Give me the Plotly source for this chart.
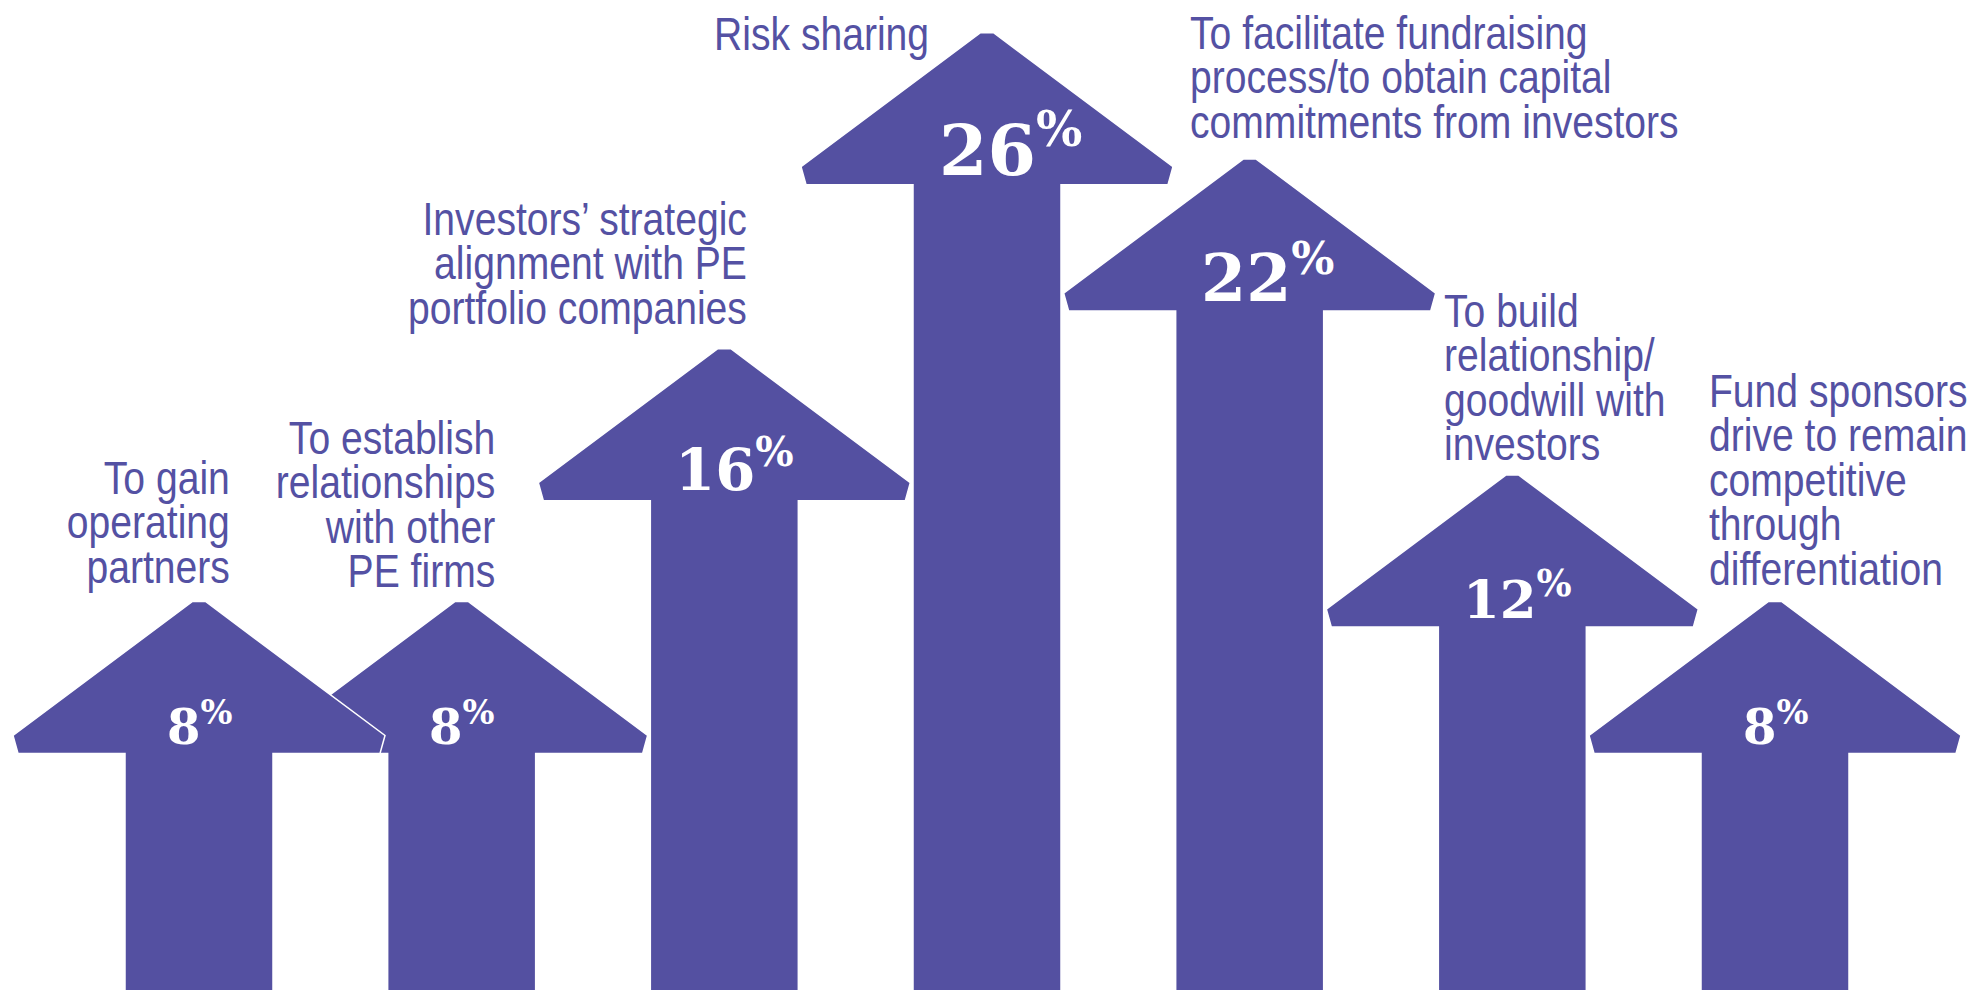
import json
import plotly.graph_objects as go

# ---------------- data ----------------
categories = [
    "To gain operating partners",
    "To establish relationships with other PE firms",
    "Investors’ strategic alignment with PE portfolio companies",
    "Risk sharing",
    "To facilitate fundraising process/to obtain capital commitments from investors",
    "To build relationship/goodwill with investors",
    "Fund sponsors drive to remain competitive through differentiation",
]
values = [8, 8, 16, 26, 22, 12, 8]
label_lines = [
    ["To gain", "operating", "partners"],
    ["To establish", "relationships", "with other", "PE firms"],
    ["Investors’ strategic", "alignment with PE", "portfolio companies"],
    ["Risk sharing"],
    ["To facilitate fundraising", "process/to obtain capital", "commitments from investors"],
    ["To build", "relationship/", "goodwill with", "investors"],
    ["Fund sponsors", "drive to remain", "competitive", "through", "differentiation"],
]

# ---------------- style / layout ----------------
W, H = 1986, 990
PURPLE = "#5450A1"
TEXT_PURPLE = "#5451A3"
X_RANGE = [-0.7576, 6.8033]
Y_RANGE = [-4.294, 27.035]
px_x = (X_RANGE[1] - X_RANGE[0]) / W   # data units per pixel (x)
px_y = (Y_RANGE[1] - Y_RANGE[0]) / H   # data units per pixel (y)

# arrow outline offsets in pixels (x right, y down from tip)
HEAD = [(-6.5, 0), (6.5, 0), (186, 134), (181, 152), (74, 152)]
SHAFT_HALF = 74

# label placement: (alignment, x offset px from arrow centre, px of last baseline above tip)
label_place = [
    ("right", 33, 20),
    ("right", 35, 15),
    ("right", 25, 26),
    ("right", -56, -16),
    ("left", -62, 22),
    ("left", -70, 16),
    ("left", -68, 18),
]
LABEL_FONT = 46
LINE_GAP = 44.5
ASCENT = 0.905
CONDENSE = 0.85
PCT_FONT = "DejaVu Serif, Liberation Serif, serif"

fig = go.Figure()

# draw arrows right-to-left so left arrows sit on top
for i in reversed(range(len(values))):
    v = values[i]
    xs, ys = [], []
    pts = HEAD + [(SHAFT_HALF, None), (-SHAFT_HALF, None)] + [(-dx, dy) for dx, dy in reversed(HEAD)]
    for dx, dy in pts:
        xs.append(i + dx * px_x)
        ys.append(Y_RANGE[0] - 1 if dy is None else v - dy * px_y)
    fig.add_trace(go.Scatter(
        x=xs, y=ys, mode="lines", fill="toself", fillcolor=PURPLE,
        line=dict(color="white", width=1.5), hoverinfo="text",
        text=f"{categories[i]}: {v}%", showlegend=False,
    ))

annotations = []
origins = {}
for i, v in enumerate(values):
    fsize = 38.5 + 1.2 * v
    annotations.append(dict(
        x=i, y=v - 143 * px_y, xref="x", yref="y",
        text=f"{v}<sup>%</sup>", showarrow=False,
        xanchor="center", yanchor="bottom",
        xshift=1.3 * (v - 8), yshift=-(0.236 * fsize + 1),
        font=dict(family=PCT_FONT, size=fsize, color="white", weight="bold"),
    ))
    align, xo, bo = label_place[i]
    lines = label_lines[i]
    n = len(lines)
    first_base_up = bo + (n - 1) * LINE_GAP
    origins[len(annotations)] = "100%" if align == "right" else "0%"
    annotations.append(dict(
        x=i, y=v, xref="x", yref="y", text="<br>".join(lines), showarrow=False,
        xanchor=align, align=align, yanchor="top", xshift=xo,
        yshift=first_base_up + ASCENT * LABEL_FONT + 1,
        font=dict(family="Liberation Sans Narrow, Arial Narrow, Liberation Sans, sans-serif",
                  size=LABEL_FONT, color=TEXT_PURPLE),
    ))

fig.update_layout(
    width=W, height=H, margin=dict(l=0, r=0, t=0, b=0),
    paper_bgcolor="white", plot_bgcolor="white",
    xaxis=dict(range=X_RANGE, visible=False, fixedrange=True),
    yaxis=dict(range=Y_RANGE, visible=False, fixedrange=True),
    annotations=annotations, showlegend=False,
)

post = """
document.body.style.margin = '0';
var origins = %s;
var gapEm = %s;
document.querySelectorAll('g.annotation').forEach(function (g) {
  var o = origins[g.getAttribute('data-index')];
  if (o === undefined) return;
  var t = g.querySelector('text.annotation-text');
  if (!t) return;
  t.querySelectorAll('tspan.line').forEach(function (ln, k) {
    ln.setAttribute('dy', (k * gapEm) + 'em');
  });
  t.style.transformBox = 'fill-box';
  t.style.transformOrigin = o + ' 0%%';
  t.style.transform = 'scaleX(%s)';
});
""" % (json.dumps({str(k): v for k, v in origins.items()}), LINE_GAP / LABEL_FONT, CONDENSE)

fig.write_html("out.html", config={"displayModeBar": False}, post_script=post)
